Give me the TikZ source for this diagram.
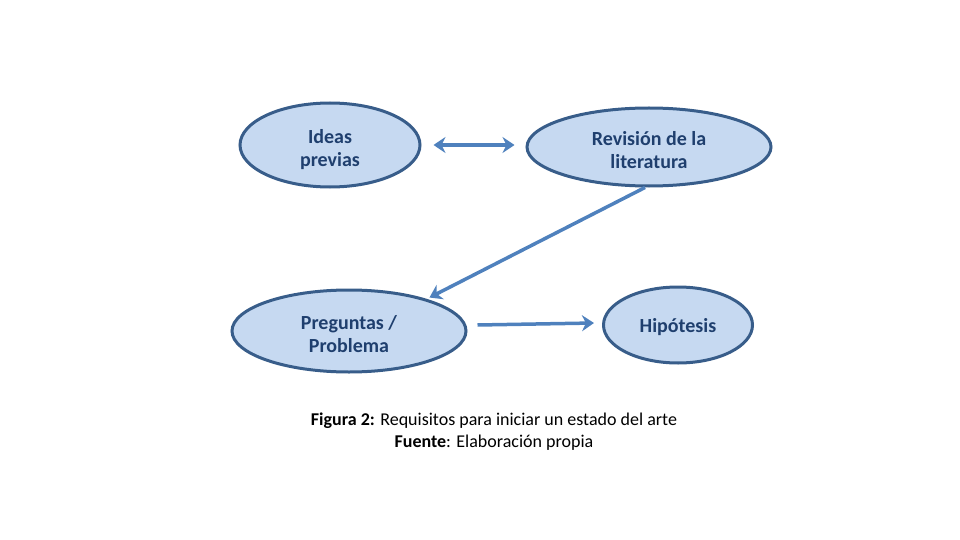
\documentclass[tikz,border=0pt]{standalone}
\usepackage{fontspec}
\setmainfont{Carlito}
\usetikzlibrary{shapes.geometric,arrows.meta}
\definecolor{fillblue}{HTML}{C6D9F1}
\definecolor{edgeblue}{HTML}{385D8A}
\definecolor{textblue}{HTML}{1F3F6E}
\definecolor{arrowblue}{HTML}{4F81BD}
\newcommand{\topstrut}[1]{\rule{0pt}{#1}}
\tikzset{
  oval/.style={ellipse,draw=edgeblue,fill=fillblue,line width=3pt,inner sep=0pt,
    font=\fontsize{20}{23}\selectfont\bfseries,text=textblue,align=center},
  conn/.style={draw=arrowblue,line width=3.5pt,-{Stealth[length=12pt,width=16pt]}},
  dconn/.style={draw=arrowblue,line width=3.5pt,{Stealth[length=12pt,width=16pt]}-{Stealth[length=12pt,width=16pt]}}
}
\begin{document}
\begin{tikzpicture}[x=1pt,y=-1pt]
\useasboundingbox (0,0) rectangle (960,540);
\node[oval,minimum width=180pt,minimum height=84pt] (ideas) at (330,145) {\topstrut{24pt}Ideas\\previas};
\node[oval,minimum width=244pt,minimum height=78pt] (rev) at (649,147) {\topstrut{21pt}Revisión de la\\literatura};
\node[oval,minimum width=234pt,minimum height=82pt] (preg) at (349,331) {\topstrut{20pt}Preguntas /\\Problema};
\node[oval,minimum width=149pt,minimum height=76pt] (hip) at (678,325) {\topstrut{18pt}Hipótesis};
\draw[dconn] ([xshift=12pt]ideas.east) -- ([xshift=-11pt,yshift=2pt]rev.west);
\draw[conn] ([xshift=-4pt]rev.south) -- ([xshift=4pt,yshift=1pt]preg.23);
\draw[conn] ([xshift=10pt,yshift=6pt]preg.east) -- ([xshift=-8pt,yshift=2pt]hip.west);
\node[font=\fontsize{18}{22}\selectfont,align=center,text=black] (cap) at (494,432)
  {\textbf{Figura 2:} Requisitos para iniciar un estado del arte\\\textbf{Fuente}: Elaboración propia};
\end{tikzpicture}
\end{document}
